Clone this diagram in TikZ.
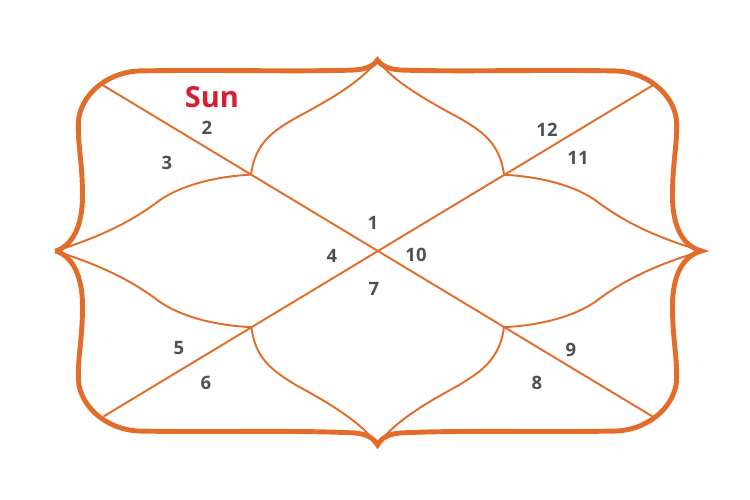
\documentclass[tikz,border=0pt]{standalone}
\usepackage{fontspec}
\setmainfont{Open Sans}
\usetikzlibrary{calc}
\definecolor{chartorange}{RGB}{226,108,42}
\definecolor{sunred}{RGB}{212,32,48}
\definecolor{numgray}{RGB}{80,80,80}

\begin{document}
\begin{tikzpicture}[rim/.style = {draw=chartorange, line width=2.8pt, line join=miter},
	petal/.style = {draw=chartorange, line width=1.1pt},
	house/.style = {text=numgray, font=\fontsize{10.5}{12}\selectfont\bfseries},
	planet/.style = {text=sunred, font=\fontsize{16.5}{19}\selectfont\bfseries}]
	\useasboundingbox (-7.55,-4.98) rectangle (7.45,5.02);

	%% Points
	\coordinate (C) at (0,0);
	\coordinate (T) at (0,3.82);
	\coordinate (B) at (0,-3.88);
	\coordinate (L) at (-6.44,0);
	\coordinate (R) at (6.48,0);
	\coordinate (TL) at (-5.5,3.32);
	\coordinate (TR) at (5.5,3.31);
	\coordinate (BL) at (-5.48,-3.31);
	\coordinate (BR) at (5.5,-3.31);
	\coordinate (IUL) at ($(C)!0.46!(TL)$);
	\coordinate (IUR) at ($(C)!0.46!(TR)$);
	\coordinate (ILL) at ($(C)!0.46!(BL)$);
	\coordinate (ILR) at ($(C)!0.46!(BR)$);

	%% Outer rim
	\draw[rim] (L) .. controls (-6.1,0.1) and (-5.9,0.5) .. (-5.9,1.1)
		.. controls (-5.9,1.8) and (-6.0,2.1) .. (-5.98,2.6)
		.. controls (-5.95,3.05) and (-5.5,3.55) .. (-4.8,3.6)
		.. controls (-3.3,3.63) and (-1.6,3.58) .. (-0.45,3.62)
		.. controls (-0.2,3.64) and (-0.06,3.72) .. (T)
		.. controls (0.06,3.72) and (0.2,3.64) .. (0.45,3.62)
		.. controls (1.6,3.58) and (3.3,3.63) .. (4.8,3.6)
		.. controls (5.5,3.55) and (5.95,3.05) .. (5.98,2.6)
		.. controls (6.0,2.1) and (5.9,1.8) .. (5.9,1.1)
		.. controls (5.9,0.5) and (6.1,0.1) .. (R)
		.. controls (6.1,-0.1) and (5.9,-0.5) .. (5.9,-1.1)
		.. controls (5.9,-1.8) and (6.0,-2.1) .. (5.98,-2.6)
		.. controls (5.95,-3.05) and (5.5,-3.55) .. (4.8,-3.6)
		.. controls (3.3,-3.63) and (1.6,-3.58) .. (0.45,-3.64)
		.. controls (0.2,-3.66) and (0.06,-3.76) .. (B)
		.. controls (-0.06,-3.76) and (-0.2,-3.66) .. (-0.45,-3.64)
		.. controls (-1.6,-3.58) and (-3.3,-3.63) .. (-4.8,-3.6)
		.. controls (-5.5,-3.55) and (-5.95,-3.05) .. (-5.98,-2.6)
		.. controls (-6.0,-2.1) and (-5.9,-1.8) .. (-5.9,-1.1)
		.. controls (-5.9,-0.5) and (-6.1,-0.1) .. (L);

	%% Diagonals
	\draw[petal] (TL) -- (BR);
	\draw[petal] (TR) -- (BL);

	%% Petals
	\draw[petal] (L) .. controls (-5.5,0.3) and (-4.9,0.6) .. (-4.35,1.02)
		.. controls (-3.85,1.36) and (-3.1,1.5) .. (IUL)
		.. controls (-2.45,2.15) and (-2.1,2.4) .. (-1.6,2.68)
		.. controls (-1.0,3.0) and (-0.3,3.4) .. (T);
	\draw[petal] (R) .. controls (5.5,0.3) and (4.9,0.6) .. (4.35,1.02)
		.. controls (3.85,1.36) and (3.1,1.5) .. (IUR)
		.. controls (2.45,2.15) and (2.1,2.4) .. (1.6,2.68)
		.. controls (1.0,3.0) and (0.3,3.4) .. (T);
	\draw[petal] (L) .. controls (-5.5,-0.3) and (-4.9,-0.6) .. (-4.35,-1.02)
		.. controls (-3.85,-1.36) and (-3.1,-1.5) .. (ILL)
		.. controls (-2.45,-2.15) and (-2.1,-2.4) .. (-1.6,-2.7)
		.. controls (-1.0,-3.02) and (-0.3,-3.44) .. (B);
	\draw[petal] (R) .. controls (5.5,-0.3) and (4.9,-0.6) .. (4.35,-1.02)
		.. controls (3.85,-1.36) and (3.1,-1.5) .. (ILR)
		.. controls (2.45,-2.15) and (2.1,-2.4) .. (1.6,-2.7)
		.. controls (1.0,-3.02) and (0.3,-3.44) .. (B);

	%% Labels
	\node[planet] (sun) at (-3.31,3.08) {Sun};
	\node[house] (h1) at (-0.09,0.56) {1};
	\node[house] (h2) at (-3.41,2.46) {2};
	\node[house] (h3) at (-4.21,1.76) {3};
	\node[house] (h4) at (-0.91,-0.10) {4};
	\node[house] (h5) at (-3.97,-1.94) {5};
	\node[house] (h6) at (-3.43,-2.64) {6};
	\node[house] (h7) at (-0.07,-0.76) {7};
	\node[house] (h8) at (3.19,-2.64) {8};
	\node[house] (h9) at (3.87,-1.98) {9};
	\node[house] (h10) at (0.77,-0.08) {10};
	\node[house] (h11) at (4.01,1.86) {11};
	\node[house] (h12) at (3.39,2.42) {12};
\end{tikzpicture}
\end{document}
